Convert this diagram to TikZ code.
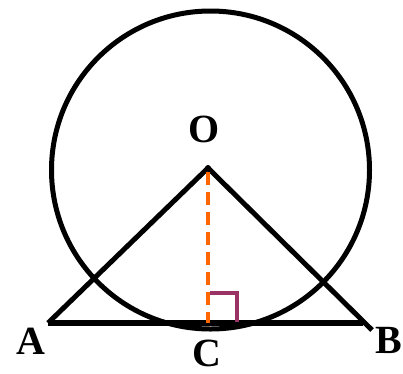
\documentclass[tikz,border=0pt]{standalone}
\usepackage{fontspec}
\setmainfont{Liberation Serif}
\begin{document}
\begin{tikzpicture}[x=1pt,y=-1pt,
  lbl/.style={font=\fontsize{40}{40}\selectfont\bfseries, inner sep=0pt},
  thick line/.style={line width=5pt, black}]
\useasboundingbox (0,0) rectangle (403,373);
\coordinate (Oc) at (210.5,170);
\coordinate (O) at (208,168);
\coordinate (A) at (48,323);
\coordinate (B) at (363,323);
\coordinate (Bend) at (372,330);
\coordinate (C) at (208,323);
\coordinate (Ctop) at (208,172);
\coordinate (R1) at (210,293);
\coordinate (R2) at (237,293);
\coordinate (R3) at (237,322);
\draw[thick line] (Oc) circle (159pt);
\draw[thick line, line join=round] (A) -- (O) -- (Bend);
\draw[line width=5.5pt] (A) -- (B);
\draw[line width=4pt, color={rgb,255:red,255;green,102;blue,0}, dash pattern=on 13pt off 7pt] (Ctop) -- (C);
\draw[line width=3.5pt, color={rgb,255:red,153;green,51;blue,102}] (R1) -- (R2) -- (R3);
\fill (O) circle (3pt);
\node[lbl] (Ol) at (204,129) {O};
\node[lbl] (Al) at (31,341) {A};
\node[lbl] (Bl) at (389,340) {B};
\node[lbl] (Cl) at (207,353) {C};
\end{tikzpicture}
\end{document}
